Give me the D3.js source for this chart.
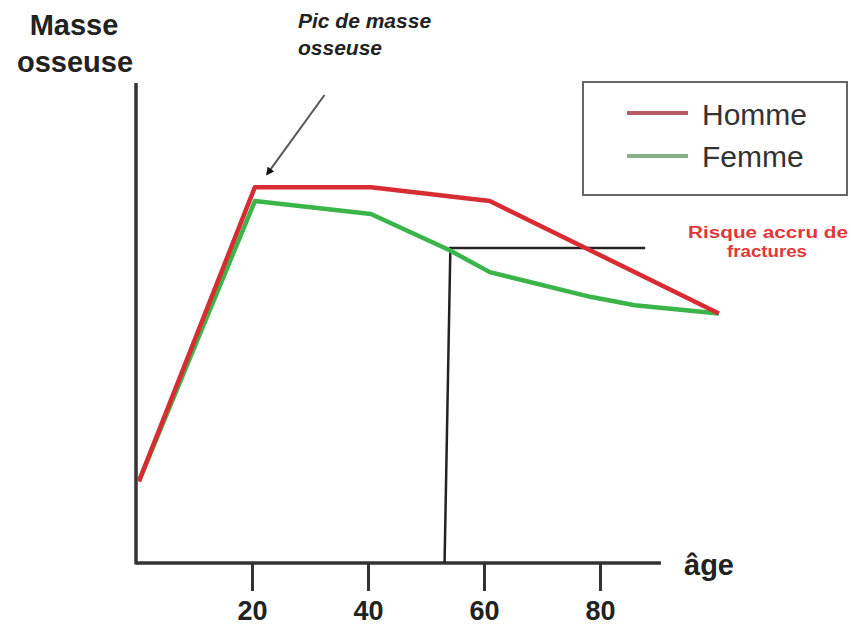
<!DOCTYPE html>
<html>
<head>
<meta charset="utf-8">
<script src="https://cdn.jsdelivr.net/npm/d3@7"></script>
<style>
  body { margin: 0; background: #fff; }
  text { font-family: "Liberation Sans", Arial, sans-serif; }
</style>
</head>
<body>
<div id="chart"></div>
<script>
// Data (age in years, bone mass in arbitrary units 0-100)
var hommeAges = [0.5, 20.5, 40.5, 61, 100.5];
var hommeMasse = [17, 78.3, 78.3, 75.4, 52];
var femmeAges = [0.5, 20.5, 40.5, 54, 61, 78.5, 86, 100.5];
var femmeMasse = [17, 75.4, 72.7, 65.2, 60.6, 55.4, 53.7, 52];
var ageTicks = [20, 40, 60, 80];
// threshold line : risque accru de fractures
var seuilAges = [53.2, 54.2, 87.8];
var seuilMasse = [0, 65.6, 65.6];

var width = 851,
  height = 643;

var x = d3.scaleLinear().domain([0, 100]).range([136, 716]);
var y = d3.scaleLinear().domain([0, 100]).range([563, 83]);

var svg = d3.select('#chart').append('svg')
  .attr('width', width)
  .attr('height', height);

svg.append('defs').append('marker')
  .attr('id', 'tip')
  .attr('viewBox', '0 0 10 10')
  .attr('refX', 8)
  .attr('refY', 5)
  .attr('markerWidth', 4)
  .attr('markerHeight', 4)
  .attr('orient', 'auto')
  .append('path')
  .attr('d', 'M0,0 L10,5 L0,10 Z')
  .attr('fill', '#111');

// Axes
var xAxis = d3.axisBottom(x)
  .tickValues(ageTicks)
  .tickSize(28)
  .tickPadding(10)
  .tickFormat(d3.format('d'));

var gx = svg.append('g')
  .attr('transform', 'translate(0,' + y(0) + ')')
  .call(xAxis);
gx.select('.domain').remove();
gx.selectAll('.tick line').attr('stroke', '#333').attr('stroke-width', 3);
gx.selectAll('.tick text')
  .attr('fill', '#222')
  .style('font-size', '27px')
  .style('font-weight', 'bold');

svg.append('line')
  .attr('x1', x(0)).attr('x2', x(90.5))
  .attr('y1', y(0)).attr('y2', y(0))
  .attr('stroke', '#333').attr('stroke-width', 3.5);
svg.append('line')
  .attr('x1', x(0)).attr('x2', x(0))
  .attr('y1', y(0) + 1.5).attr('y2', y(100))
  .attr('stroke', '#333').attr('stroke-width', 3.5);

// Threshold
svg.append('path')
  .datum(d3.zip(seuilAges, seuilMasse))
  .attr('fill', 'none')
  .attr('stroke', '#222')
  .attr('stroke-width', 2.5)
  .attr('d', d3.line().x(function (d) { return x(d[0]); }).y(function (d) { return y(d[1]); }));

// Series
var line = d3.line()
  .x(function (d) { return x(d[0]); })
  .y(function (d) { return y(d[1]); });

svg.append('path')
  .datum(d3.zip(femmeAges, femmeMasse))
  .attr('fill', 'none')
  .attr('stroke', '#3bb44a')
  .attr('stroke-width', 4.5)
  .attr('stroke-linejoin', 'round')
  .attr('d', line);

svg.append('path')
  .datum(d3.zip(hommeAges, hommeMasse))
  .attr('fill', 'none')
  .attr('stroke', '#d62c32')
  .attr('stroke-width', 4.5)
  .attr('stroke-linejoin', 'round')
  .attr('d', line);

// Titles
svg.append('text')
  .attr('x', 74).attr('y', 35)
  .attr('text-anchor', 'middle')
  .attr('fill', '#222')
  .style('font-size', '29px').style('font-weight', 'bold')
  .text('Masse');
svg.append('text')
  .attr('x', 75).attr('y', 72)
  .attr('text-anchor', 'middle')
  .attr('fill', '#222')
  .style('font-size', '29px').style('font-weight', 'bold')
  .text('osseuse');

svg.append('text')
  .attr('x', 684).attr('y', 575)
  .attr('fill', '#222')
  .style('font-size', '29px').style('font-weight', 'bold')
  .text('âge');

// Peak annotation
svg.append('text')
  .attr('x', 298).attr('y', 28)
  .attr('fill', '#222')
  .style('font-size', '21px').style('font-weight', 'bold').style('font-style', 'italic')
  .text('Pic de masse');
svg.append('text')
  .attr('x', 298).attr('y', 55)
  .attr('fill', '#222')
  .style('font-size', '21px').style('font-weight', 'bold').style('font-style', 'italic')
  .text('osseuse');

svg.append('line')
  .attr('x1', x(32.5)).attr('y1', y(97.5))
  .attr('x2', x(22.6)).attr('y2', y(81))
  .attr('stroke', '#555')
  .attr('stroke-width', 2)
  .attr('marker-end', 'url(#tip)');

// Risk label
svg.append('text')
  .attr('x', 688).attr('y', 238)
  .attr('fill', '#e0383a')
  .attr('textLength', 160).attr('lengthAdjust', 'spacingAndGlyphs')
  .style('font-size', '16px').style('font-weight', 'bold')
  .text('Risque accru de');
svg.append('text')
  .attr('x', 727).attr('y', 257)
  .attr('fill', '#e0383a')
  .attr('textLength', 80).attr('lengthAdjust', 'spacingAndGlyphs')
  .style('font-size', '16px').style('font-weight', 'bold')
  .text('fractures');

// Legend
var legend = svg.append('g');
legend.append('rect')
  .attr('x', 583).attr('y', 82)
  .attr('width', 264).attr('height', 113)
  .attr('fill', '#fff')
  .attr('stroke', '#666')
  .attr('stroke-width', 2);

var legendItems = [
  {label: 'Homme', color: '#b85a68', ly: 113, ty: 125},
  {label: 'Femme', color: '#86b088', ly: 156, ty: 167}
];
legend.selectAll('line.item')
  .data(legendItems)
  .enter().append('line')
  .attr('class', 'item')
  .attr('x1', 627).attr('x2', 688)
  .attr('y1', function (d) { return d.ly; })
  .attr('y2', function (d) { return d.ly; })
  .attr('stroke', function (d) { return d.color; })
  .attr('stroke-width', 4);
legend.selectAll('text.item')
  .data(legendItems)
  .enter().append('text')
  .attr('class', 'item')
  .attr('x', 702)
  .attr('y', function (d) { return d.ty; })
  .attr('fill', '#333')
  .style('font-size', '30px')
  .text(function (d) { return d.label; });
</script>
</body>
</html>
